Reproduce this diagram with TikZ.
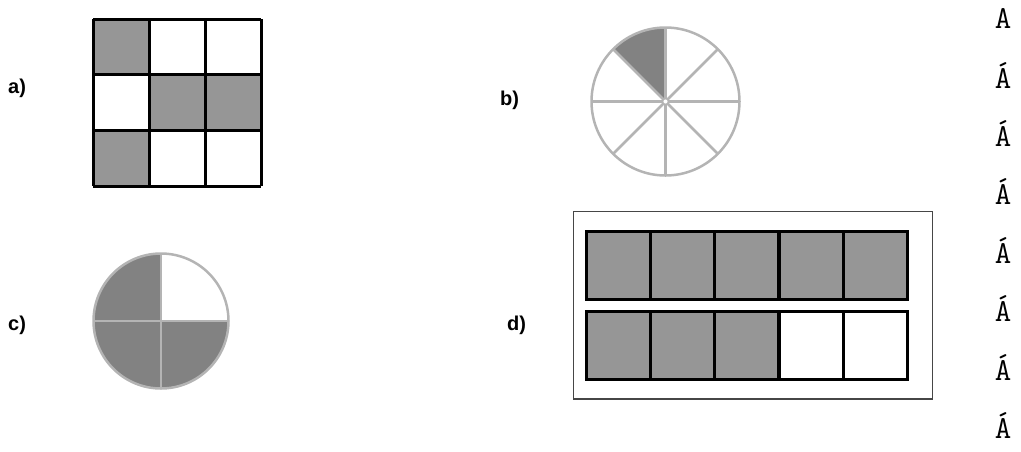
\documentclass[tikz,border=0pt]{standalone}
\usepackage{fontspec}
\setmainfont{Liberation Sans}
\usepackage{xcolor}
\definecolor{cellgray}{RGB}{150, 150, 150}
\definecolor{piegray}{RGB}{130, 130, 130}
\definecolor{rimgray}{RGB}{180, 180, 180}
\definecolor{boxgray}{RGB}{70, 70, 70}

\begin{document}
\begin{tikzpicture}[x=1pt, y=-1pt,
    lbl/.style={anchor=base west, inner sep=0pt, font=\bfseries\fontsize{20}{20}\selectfont},
    accent/.style={anchor=base, inner sep=0pt, font=\ttfamily\fontsize{32}{32}\selectfont}]
    \useasboundingbox (0,0) rectangle (1021,451);

    % Labels
    \node[lbl] (lbla) at (8,93) {a)};
    \node[lbl] (lblb) at (500,105) {b)};
    \node[lbl] (lblc) at (8,330) {c)};
    \node[lbl] (lbld) at (507,330) {d)};

    % a) grid
    \foreach \c/\r in {0/0, 1/1, 2/1, 0/2}
        \fill[cellgray] (93+56*\c,19+55.67*\r) rectangle ++(56,55.67);
    \foreach \i in {0,...,3} {
        \draw[line width=3pt] (93+56*\i,19) -- (93+56*\i,186);
        \draw[line width=3pt] (93,19+55.67*\i) -- (261,19+55.67*\i);
    }

    % b) circle in eighths
    \coordinate (bc) at (665.5,101.5);
    \fill[piegray] (bc) -- ++(-90:74) arc[start angle=-90, end angle=-135, radius=74] -- cycle;
    \foreach \a in {0,45,...,315}
        \draw[rimgray, line width=2.5pt] ([shift={(\a:3)}]bc) -- ([shift={(\a:74)}]bc);
    \draw[rimgray, line width=2.5pt] (bc) circle (74);
    \draw[rimgray, line width=1.5pt, fill=white] (bc) circle (3);

    % c) circle in quarters
    \coordinate (cc) at (161,321);
    \fill[piegray] (cc) -- ++(-90:67.5) arc[start angle=-90, end angle=-360, radius=67.5] -- cycle;
    \draw[rimgray, line width=2pt] ([xshift=-67.5pt]cc) -- ([xshift=67.5pt]cc);
    \draw[rimgray, line width=2pt] ([yshift=-67.5pt]cc) -- ([yshift=67.5pt]cc);
    \draw[rimgray, line width=2.5pt] (cc) circle (67.5);

    % d) two strips of fifths
    \draw[boxgray, line width=1.3pt] (573.3,211.7) rectangle (932.7,399);
    \foreach \i in {0,...,4}
        \fill[cellgray] (586+64.34*\i,231) rectangle ++(64.34,68);
    \foreach \i in {0,...,2}
        \fill[cellgray] (586+64.34*\i,311) rectangle ++(64.34,68.3);
    \draw[line width=3pt] (586,231) rectangle (907.7,299);
    \draw[line width=3pt] (586,311) rectangle (907.7,379.3);
    \foreach \i in {1,...,4} {
        \draw[line width=3.5pt] (586+64.34*\i,231) -- (586+64.34*\i,299);
        \draw[line width=3.5pt] (586+64.34*\i,311) -- (586+64.34*\i,379.3);
    }

    % Letters on the right
    \node[accent] (acc0) at (1003,28) {A};
    \foreach \k in {1,...,7}
        \node[accent] (acc\k) at (1003,88+58.4*\k-58.4) {Á};
\end{tikzpicture}
\end{document}
